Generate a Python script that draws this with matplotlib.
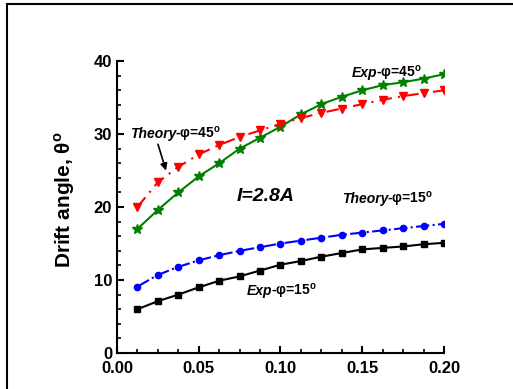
import matplotlib
matplotlib.use('Agg')
import matplotlib.pyplot as plt
from matplotlib.patches import Rectangle
from matplotlib.ticker import MultipleLocator

plt.rcParams['font.family'] = ['Liberation Sans', 'DejaVu Sans']
plt.rcParams['font.weight'] = 'bold'
plt.rcParams['mathtext.fontset'] = 'custom'
plt.rcParams['mathtext.rm'] = 'Liberation Sans'
plt.rcParams['mathtext.bf'] = 'Liberation Sans:bold'

# current ratio (x) and drift angle readings
x = [0.0125, 0.025, 0.0375, 0.05, 0.0625, 0.075, 0.0875, 0.1,
     0.1125, 0.125, 0.1375, 0.15, 0.1625, 0.175, 0.1875, 0.2]
exp15 = [6.0, 7.1, 8.0, 9.0, 9.9, 10.5, 11.3, 12.1,
         12.6, 13.2, 13.7, 14.2, 14.4, 14.6, 14.9, 15.1]
theory15 = [9.1, 10.7, 11.8, 12.7, 13.4, 14.0, 14.5, 15.0,
            15.4, 15.8, 16.2, 16.5, 16.8, 17.1, 17.4, 17.7]
exp45 = [17.0, 19.6, 22.0, 24.2, 26.0, 28.0, 29.5, 31.0,
         32.7, 34.1, 35.1, 36.0, 36.7, 37.1, 37.6, 38.2]
theory45 = [20.0, 23.4, 25.5, 27.2, 28.5, 29.6, 30.5, 31.4,
            32.2, 32.9, 33.5, 34.1, 34.7, 35.2, 35.6, 36.0]

DEG = r'$^{\mathbf{o}}$'

fig = plt.figure(figsize=(5.13, 3.89), dpi=100)
ax = fig.add_axes([0.228, 0.0925, 0.6375, 0.7505])

ax.plot(x, exp15, color='black', marker='s', ms=4.5, lw=1.5, ls='-')
ax.plot(x, theory15, color='blue', marker='o', ms=4.5, lw=1.5, ls='-.')
ax.plot(x, exp45, color='green', marker='*', ms=7.5, lw=1.5, ls='-')
ax.plot(x, theory45, color='red', marker='v', ms=5.5, lw=1.5,
        ls=(0, (6, 3, 1, 3)))

ax.set_xlim(0, 0.2)
ax.set_ylim(0, 40)
ax.xaxis.set_major_locator(MultipleLocator(0.05))
ax.xaxis.set_minor_locator(MultipleLocator(0.0125))
ax.yaxis.set_major_locator(MultipleLocator(10))
ax.yaxis.set_minor_locator(MultipleLocator(2))
ax.xaxis.set_major_formatter(plt.FuncFormatter(lambda v, p: '%.2f' % v))
ax.yaxis.set_major_formatter(plt.FuncFormatter(lambda v, p: '%d' % v))
ax.tick_params(which='major', direction='in', length=5, width=1.5, labelsize=12)
ax.tick_params(which='minor', direction='in', length=3, width=1.2)
ax.tick_params(axis='x', pad=6)
for s in ['top', 'right']:
    ax.spines[s].set_visible(False)
for s in ['left', 'bottom']:
    ax.spines[s].set_linewidth(1.5)
for lab in ax.get_xticklabels() + ax.get_yticklabels():
    lab.set_fontweight('bold')

ax.set_ylabel('Drift angle, θ' + DEG, fontsize=15, fontweight='bold')
ax.yaxis.set_label_coords(-0.122, 0.525)

labels = []


def label(xp, yp, it, rest, fs=10):
    t = ax.text(xp, yp, it, fontsize=fs, fontstyle='italic', fontweight='bold',
                va='baseline', ha='left')
    labels.append((t, rest + DEG, fs))


# baseline y positions
label(0.1437, 37.8, 'Exp', '-φ=45')
label(0.008, 29.4, 'Theory', '-φ=45')
label(0.1376, 20.5, 'Theory', '-φ=15')
label(0.0795, 7.9, 'Exp', '-φ=15')
ax.text(0.073, 21.4, 'I=2.8A', fontsize=14, fontstyle='italic',
        fontweight='bold', va='center', ha='left')
ax.annotate('', xy=(0.030, 25.0), xytext=(0.0251, 28.6),
            arrowprops=dict(arrowstyle='-|>', color='black', lw=1.2,
                            mutation_scale=10, shrinkA=0, shrinkB=0))

# put the upright part right after the italic word, same baseline
fig.canvas.draw()
r = fig.canvas.get_renderer()
for t, rest, fs in labels:
    bb = t.get_window_extent(r)
    y0 = ax.transData.transform(t.get_position())[1]
    fig.text((bb.x1 - 1) / fig.bbox.width, y0 / fig.bbox.height, rest,
             fontsize=fs, fontweight='bold', va='baseline', ha='left')

# outer frame of the cropped figure
fig.patches.append(Rectangle((7 / 513, -0.5), 2, (389 - 4) / 389 + 0.5,
                             transform=fig.transFigure, fill=False,
                             edgecolor='black', lw=1.5))

fig.savefig('out.png', dpi=100)
